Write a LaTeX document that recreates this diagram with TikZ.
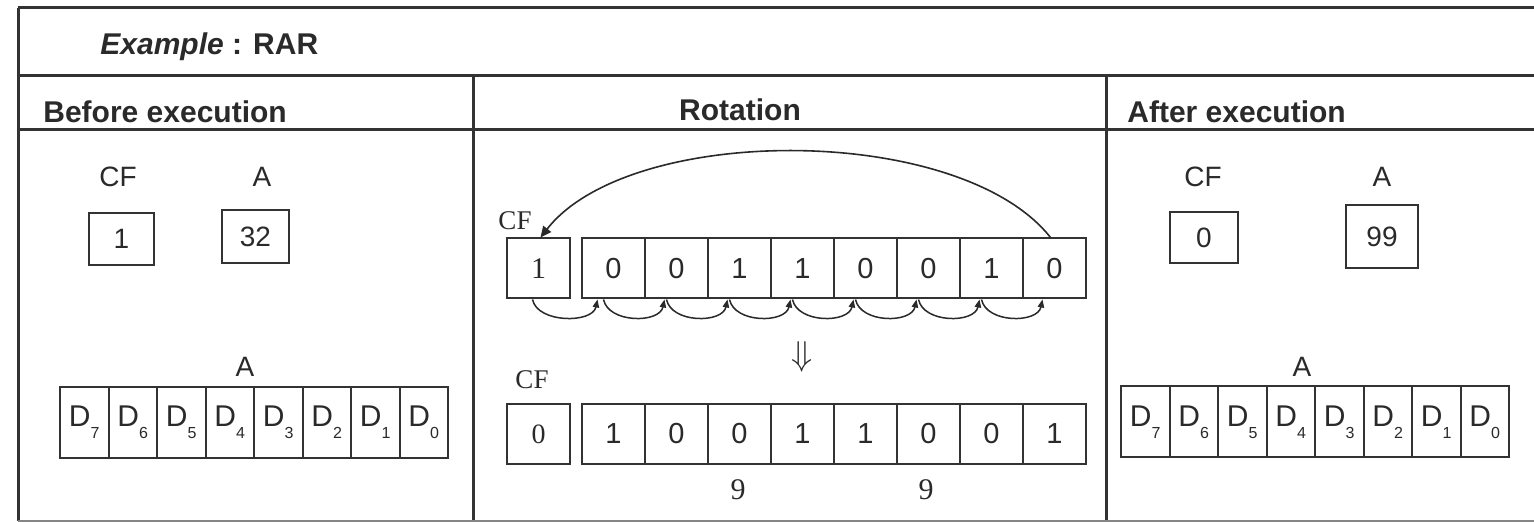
\documentclass[tikz,border=0pt]{standalone}
\usepackage{fontspec}
\setmainfont{Liberation Sans}
\newfontfamily\tnr{Liberation Serif}
\usetikzlibrary{arrows.meta}
\definecolor{ink}{HTML}{2A2A2A}
\definecolor{rule}{HTML}{333333}

\begin{document}
\begin{tikzpicture}[x=0.5pt,y=-0.5pt,
  frame/.style={draw=rule,line width=1.5pt},
  head/.style={font=\fontsize{15}{15}\selectfont\bfseries,text=ink,inner sep=0pt},
  lbl/.style={font=\fontsize{14}{14}\selectfont,text=ink,inner sep=0pt},
  slbl/.style={font=\tnr\fontsize{13.5}{13.5}\selectfont,text=ink,inner sep=0pt},
  valbox/.style={draw=rule,line width=1pt,inner sep=0pt,text=ink,font=\fontsize{14}{14}\selectfont},
  dcell/.style={draw=rule,line width=1pt,inner sep=0pt,text=ink,
    minimum width=24.25pt,minimum height=35.5pt,font=\fontsize{15}{15}\selectfont},
  bit/.style={draw=rule,line width=1pt,inner sep=0pt,text=ink,
    minimum width=31.5pt,minimum height=30pt,font=\fontsize{14.5}{14.5}\selectfont},
  carry/.style={-{Triangle[length=4pt,width=3.2pt]},draw=ink,line width=0.75pt},
]
\useasboundingbox (0,0) rectangle (1534,522);
\fill[white] (0,0) rectangle (1534,522);

% table rules
\draw[frame] (18,8) -- (1534,8);
\draw[frame] (18,76) -- (1534,76);
\draw[frame] (18,130) -- (1534,130);
\draw[frame] (18,8) -- (18,521);
\draw[frame] (473,76) -- (473,521);
\draw[frame] (1106,76) -- (1106,521);
\draw[draw=rule!60,line width=0.6pt] (18,521) -- (1534,521);

% headings
\node[head,anchor=west] (title) at (100,47)
  {{\fontsize{15}{15}\selectfont\itshape Example}\fontsize{15}{15}\selectfont{} : RAR};
\node[head,anchor=west] (hbefore) at (43,112) {Before execution};
\node[head] (hrot) at (740,110) {Rotation};
\node[head,anchor=west] (hafter) at (1127,112) {After execution};

% ---- before execution ----
\node[lbl] (lcf) at (118,177) {CF};
\node[lbl] (la) at (262,177) {A};
\node[valbox,minimum width=32.5pt,minimum height=26pt] (lcfv) at (121.5,239) {1};
\node[valbox,minimum width=33.5pt,minimum height=26.5pt] (lav) at (255.5,236.5) {32};
\node[lbl] (lareg) at (245,367) {A};
\foreach \b [count=\i from 0] in {7,6,5,4,3,2,1,0}
  \node[dcell] (ld\b) at ({84.25+48.5*\i},422.5)
    {D\raisebox{-6pt}{\fontsize{8}{8}\selectfont\b}};

% ---- rotation ----
\node[slbl] (mcf1) at (515,221) {CF};
\node[bit,font=\tnr\fontsize{15}{15}\selectfont] (c1) at (538.5,268.5) {1};
\foreach \v [count=\i from 1] in {0,0,1,1,0,0,1,0}
  \node[bit] (t\i) at ({550.5+63*\i},268.5) {\v};

% bit 0 goes round into the carry flag
\draw[-{Triangle[length=5.5pt,width=5pt]},draw=ink,line width=0.8pt]
  ([xshift=-2pt]t8.north) .. controls (960,123) and (630,123) .. ([xshift=1pt]c1.north);

% every other bit moves one place right
\draw[carry] ([xshift=-3pt]c1.south) .. controls +(5,24) and +(-5,24) .. ([xshift=-8pt]t1.south);
\foreach \a/\b in {1/2,2/3,3/4,4/5,5/6,6/7,7/8}
  \draw[carry] ([xshift=-5pt]t\a.south) .. controls +(5,24) and +(-5,24) .. ([xshift=-6pt]t\b.south);

\node[font=\fontsize{16}{16}\selectfont,text=ink,inner sep=0pt] (down) at (802,357) {$\Downarrow$};

\node[slbl] (mcf2) at (532,380) {CF};
\node[bit,font=\tnr\fontsize{14}{14}\selectfont] (c2) at (538.5,434) {0};
\foreach \v [count=\i from 1] in {1,0,0,1,1,0,0,1}
  \node[bit] (r\i) at ({550.5+63*\i},434) {\v};
\node[font=\tnr\fontsize{15}{15}\selectfont,text=ink,inner sep=0pt] (hexhi) at (738,490) {9};
\node[font=\tnr\fontsize{15}{15}\selectfont,text=ink,inner sep=0pt] (hexlo) at (926,490) {9};

% ---- after execution ----
\node[lbl] (rcf) at (1203,177) {CF};
\node[lbl] (ra) at (1382,177) {A};
\node[valbox,minimum width=34pt,minimum height=25.5pt] (rcfv) at (1204,237.5) {0};
\node[valbox,minimum width=36pt,minimum height=31.5pt] (rav) at (1382,236.5) {99};
\node[lbl] (rareg) at (1302,367) {A};
\foreach \b [count=\i from 0] in {7,6,5,4,3,2,1,0}
  \node[dcell] (rd\b) at ({1145.25+48.5*\i},422)
    {D\raisebox{-6pt}{\fontsize{8}{8}\selectfont\b}};
\end{tikzpicture}
\end{document}
